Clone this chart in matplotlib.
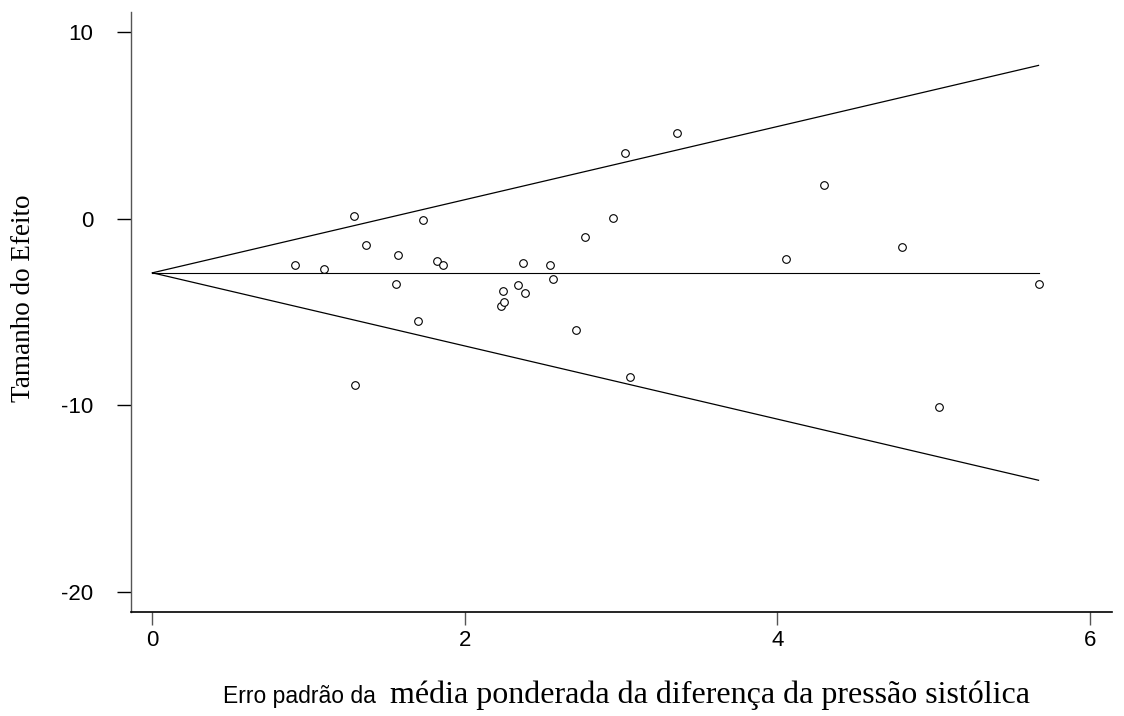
import matplotlib
matplotlib.use('Agg')
import matplotlib.pyplot as plt

# erro padrao (x) e tamanho do efeito (y) de cada estudo
se = [0.915, 1.099, 1.289, 1.297, 1.365, 1.560, 1.575, 1.698, 1.730, 1.820,
      1.857, 2.230, 2.247, 2.251, 2.341, 2.375, 2.385, 2.546, 2.567, 2.714,
      2.770, 2.945, 3.028, 3.054, 3.361, 4.054, 4.300, 4.800, 5.032, 5.672]
efeito = [-2.50, -2.68, 0.13, -8.91, -1.41, -3.50, -1.97, -5.47, -0.09, -2.27,
          -2.50, -4.68, -3.86, -4.47, -3.56, -2.39, -3.99, -2.48, -3.22, -5.99,
          -0.98, 0.02, 3.52, -8.49, 4.61, -2.18, 1.81, -1.52, -10.10, -3.50]

# linhas do funil (estimativa combinada e limites de 95%)
funil_x = [0.0, 5.672]
funil_centro = [-2.9, -2.9]
funil_sup = [-2.9, 8.22]
funil_inf = [-2.9, -14.02]

xticks = [0, 2, 4, 6]
yticks = [-20, -10, 0, 10]

fig = plt.figure(figsize=(11.24, 7.16), dpi=100)
ax = fig.add_axes([0.1163, 0.1448, 0.8727, 0.8389])

ax.plot(funil_x, funil_centro, color='black', lw=0.8)
ax.plot(funil_x, funil_sup, color='black', lw=0.9)
ax.plot(funil_x, funil_inf, color='black', lw=0.9)
ax.plot(se, efeito, 'o', mfc='white', mec='black', ms=5.5, mew=0.8, ls='none')

ax.set_xlim(-0.139, 6.14)
ax.set_ylim(-21.1, 11.1)
ax.spines['top'].set_visible(False)
ax.spines['right'].set_visible(False)
ax.spines['left'].set_color('#555555')
ax.spines['left'].set_linewidth(1.0)
ax.spines['bottom'].set_linewidth(1.2)

ax.set_xticks(xticks)
ax.set_yticks(yticks)
ax.set_xticklabels([str(v) for v in xticks], family='Liberation Sans', fontsize=16)
ax.set_yticklabels([str(v) for v in yticks], family='Liberation Sans', fontsize=16)
ax.tick_params(axis='x', length=9.4, width=1.0, color='#555555', pad=3.5)
ax.tick_params(axis='y', length=10, width=1.0, color='black', pad=17)

fig.text(24 / 1124, 1 - 298 / 716, 'Tamanho do Efeito', rotation=90,
         ha='center', va='center', family='Liberation Serif', fontsize=19.5)
fig.text(223 / 1124, 1 - 703 / 716, 'Erro padrão da', ha='left', va='baseline',
         family='Liberation Sans', fontsize=16.5)
fig.text(390 / 1124, 1 - 703 / 716, 'média ponderada da diferença da pressão sistólica',
         ha='left', va='baseline', family='Liberation Serif', fontsize=23)

fig.savefig('out.png', dpi=100)
